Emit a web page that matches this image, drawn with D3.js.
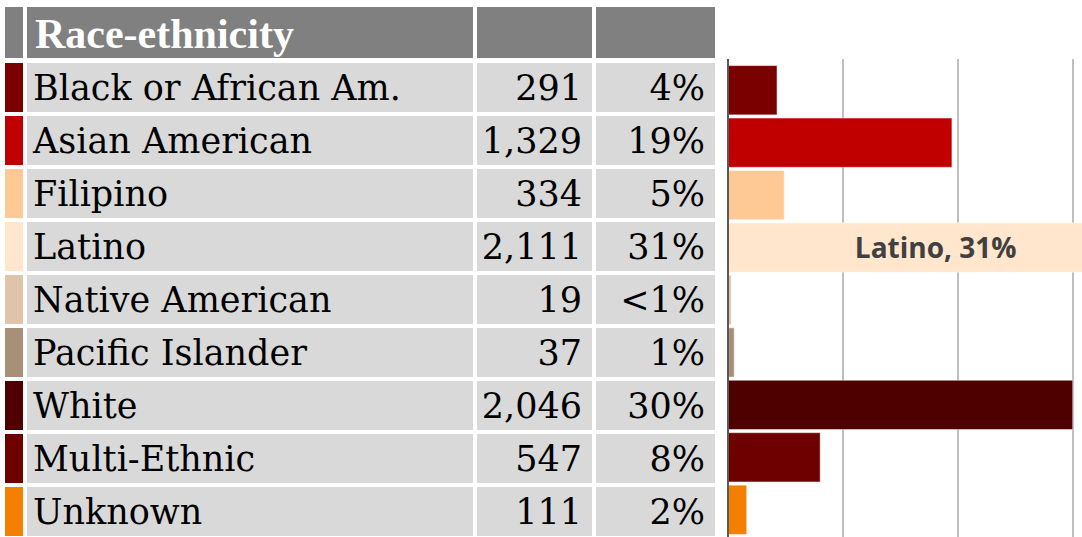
<!DOCTYPE html>
<html>
<head>
<meta charset="utf-8">
<script src="https://cdn.jsdelivr.net/npm/d3@7"></script>
<style>
  body { margin: 0; background: #fff; }
  svg { display: block; }
</style>
</head>
<body>
<script>
////////////////   Data   ////////////////

var groups = ["Black or African Am.", "Asian American", "Filipino", "Latino",
              "Native American", "Pacific Islander", "White", "Multi-Ethnic", "Unknown"];
var counts = [291, 1329, 334, 2111, 19, 37, 2046, 547, 111];
var pctLabels = ["4%", "19%", "5%", "31%", "<1%", "1%", "30%", "8%", "2%"];
var groupColors = ["#7a0000", "#c00000", "#ffc996", "#ffe6cd", "#dfc4aa",
                   "#a89077", "#4e0000", "#6e0000", "#f58000"];
var gridTicks = [0.1, 0.2, 0.3];
var headerTitle = "Race-ethnicity";
var labelledGroup = "Latino";

////////////////   Layout   ////////////////

var W = 1082, H = 537;
var headerTop = 7, headerH = 51;
var rowTop = 63, rowStep = 53, rowH = 49;
var cols = {
    swatch: [5, 23],
    name:   [27, 473],
    count:  [477, 592],
    pct:    [596, 715]
};
var serifBold = "'Liberation Serif', 'Times New Roman', serif";
// regular Liberation Serif falls back to a sans here, so use DejaVu Serif for body text
var serif = "'DejaVu Serif', serif";
var fontSize = 35;

var total = d3.sum(counts);
var rows = groups.map(function(g, i) {
    return { name: g, count: counts[i], share: counts[i] / total, pct: pctLabels[i], color: groupColors[i] };
});

var svg = d3.select("body").append("svg")
    .attr("width", W)
    .attr("height", H);

////////////////   Table   ////////////////

var header = svg.append("g");
Object.keys(cols).forEach(function(k) {
    header.append("rect")
        .attr("x", cols[k][0]).attr("y", headerTop)
        .attr("width", cols[k][1] - cols[k][0]).attr("height", headerH)
        .attr("fill", "#808080");
});
header.append("text")
    .attr("x", 35).attr("y", headerTop + 41)
    .style("font-family", serifBold).attr("font-weight", "bold")
    .attr("font-size", 42).attr("fill", "#fff")
    .text(headerTitle);

var tr = svg.selectAll(".row")
    .data(rows)
  .enter().append("g")
    .attr("class", "row")
    .attr("transform", function(d, i) { return "translate(0," + (rowTop + i * rowStep) + ")"; });

tr.append("rect")
    .attr("x", cols.swatch[0]).attr("width", cols.swatch[1] - cols.swatch[0])
    .attr("height", rowH)
    .attr("fill", function(d) { return d.color; });

["name", "count", "pct"].forEach(function(k) {
    tr.append("rect")
        .attr("x", cols[k][0]).attr("width", cols[k][1] - cols[k][0])
        .attr("height", rowH)
        .attr("fill", "#d9d9d9");
});

tr.append("text")
    .attr("x", 33).attr("y", 37)
    .style("font-family", serif)
    .attr("font-size", fontSize).attr("fill", "#000")
    .text(function(d) { return d.name; });

tr.append("text")
    .attr("x", cols.count[1] - 10).attr("y", 37)
    .attr("text-anchor", "end")
    .style("font-family", serif)
    .attr("font-size", fontSize).attr("fill", "#000")
    .text(function(d) { return d3.format(",")(d.count); });

tr.append("text")
    .attr("x", cols.pct[1] - 10).attr("y", 37)
    .attr("text-anchor", "end")
    .style("font-family", serif)
    .attr("font-size", fontSize).attr("fill", "#000")
    .text(function(d) { return d.pct; });

////////////////   Bar chart   ////////////////

var x = d3.scaleLinear().domain([0, 0.3]).range([728, 1073]);
var y = d3.scaleBand().domain(groups).range([64, 536]).paddingInner(0.06).paddingOuter(0.03);

var chartTop = 59;

svg.append("g").selectAll("line")
    .data(gridTicks)
  .enter().append("line")
    .attr("x1", function(d) { return x(d); }).attr("x2", function(d) { return x(d); })
    .attr("y1", chartTop).attr("y2", H)
    .attr("stroke", "#bfbfbf").attr("stroke-width", 2);

svg.append("g").selectAll("rect")
    .data(rows)
  .enter().append("rect")
    .attr("x", x(0))
    .attr("y", function(d) { return y(d.name); })
    .attr("width", function(d) { return x(d.share) - x(0); })
    .attr("height", y.bandwidth())
    .attr("fill", function(d) { return d.color; })
    .attr("stroke", "rgba(255,255,255,0.5)").attr("stroke-width", 1);

// vertical axis line
svg.append("line")
    .attr("x1", x(0)).attr("x2", x(0))
    .attr("y1", chartTop).attr("y2", H)
    .attr("stroke", "#595959").attr("stroke-width", 2);

// data label on the Latino bar
var lab = rows.filter(function(d) { return d.name === labelledGroup; })[0];
svg.append("text")
    .attr("x", x(lab.share) - 148)
    .attr("y", y(lab.name) + y.bandwidth() / 2 + 10)
    .attr("text-anchor", "middle")
    .style("font-family", "'Open Sans', Lato, sans-serif").attr("font-weight", "bold")
    .attr("font-size", 28).attr("fill", "#404040")
    .text(lab.name + ", " + lab.pct);
</script>
</body>
</html>
